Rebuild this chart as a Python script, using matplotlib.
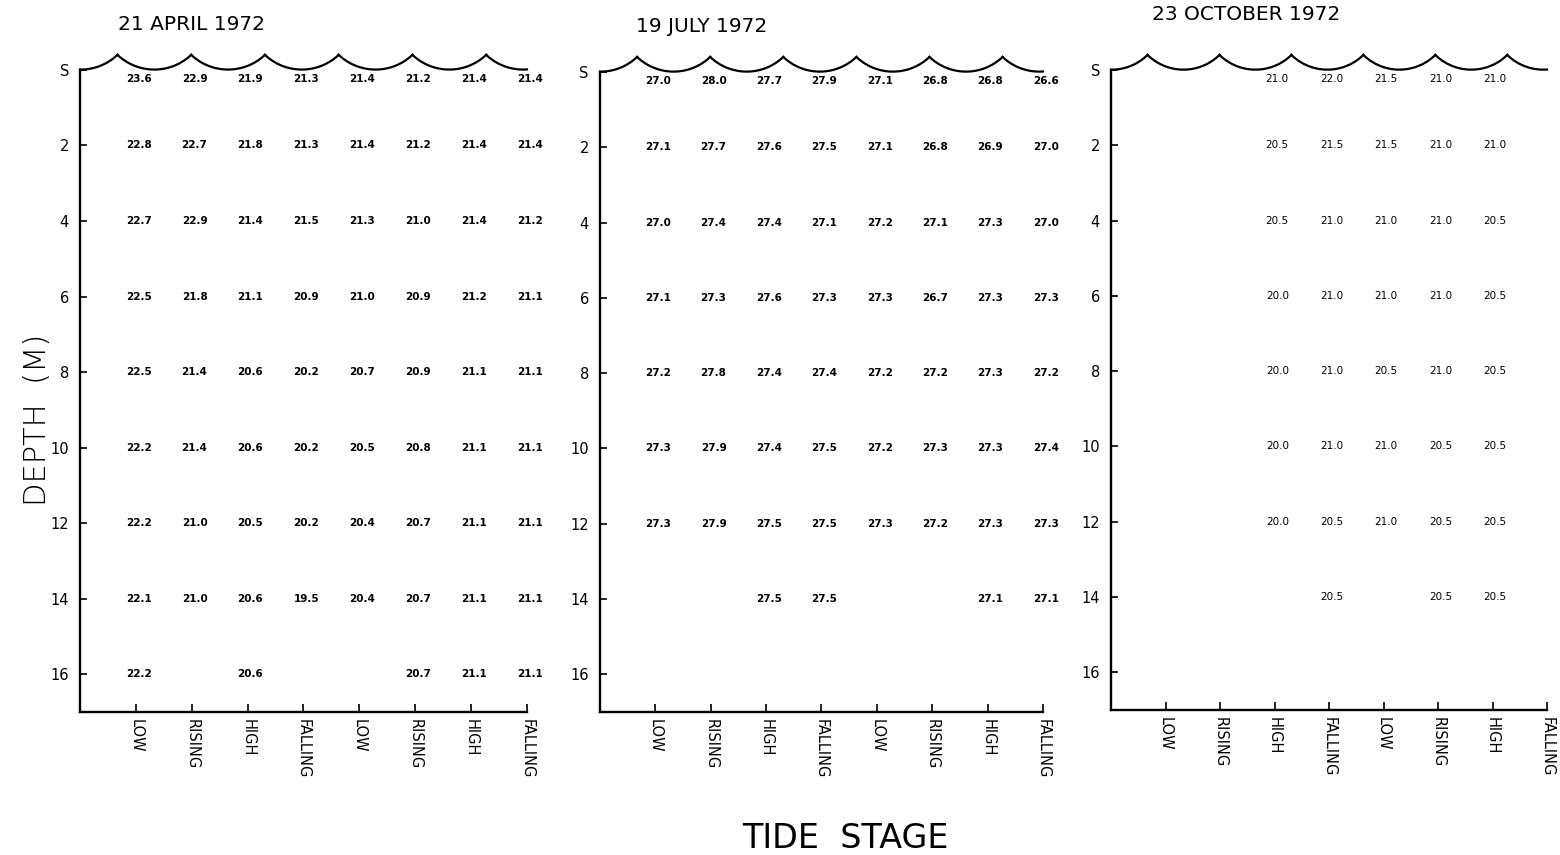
import numpy as np
import matplotlib.pyplot as plt

# tide stages along the x axis, depths (m) down the y axis
stages = ["LOW", "RISING", "HIGH", "FALLING", "LOW", "RISING", "HIGH", "FALLING"]
depth_ticks = [0, 2, 4, 6, 8, 10, 12, 14, 16]
depth_labels = ["S", "2", "4", "6", "8", "10", "12", "14", "16"]

# temperatures (deg C), one row per depth, one column per tide stage; None = no reading
april = [
    [23.6, 22.9, 21.9, 21.3, 21.4, 21.2, 21.4, 21.4],
    [22.8, 22.7, 21.8, 21.3, 21.4, 21.2, 21.4, 21.4],
    [22.7, 22.9, 21.4, 21.5, 21.3, 21.0, 21.4, 21.2],
    [22.5, 21.8, 21.1, 20.9, 21.0, 20.9, 21.2, 21.1],
    [22.5, 21.4, 20.6, 20.2, 20.7, 20.9, 21.1, 21.1],
    [22.2, 21.4, 20.6, 20.2, 20.5, 20.8, 21.1, 21.1],
    [22.2, 21.0, 20.5, 20.2, 20.4, 20.7, 21.1, 21.1],
    [22.1, 21.0, 20.6, 19.5, 20.4, 20.7, 21.1, 21.1],
    [22.2, None, 20.6, None, None, 20.7, 21.1, 21.1],
]
july = [
    [27.0, 28.0, 27.7, 27.9, 27.1, 26.8, 26.8, 26.6],
    [27.1, 27.7, 27.6, 27.5, 27.1, 26.8, 26.9, 27.0],
    [27.0, 27.4, 27.4, 27.1, 27.2, 27.1, 27.3, 27.0],
    [27.1, 27.3, 27.6, 27.3, 27.3, 26.7, 27.3, 27.3],
    [27.2, 27.8, 27.4, 27.4, 27.2, 27.2, 27.3, 27.2],
    [27.3, 27.9, 27.4, 27.5, 27.2, 27.3, 27.3, 27.4],
    [27.3, 27.9, 27.5, 27.5, 27.3, 27.2, 27.3, 27.3],
    [None, None, 27.5, 27.5, None, None, 27.1, 27.1],
    [None, None, None, None, None, None, None, None],
]
october = [
    [None, None, 21.0, 22.0, 21.5, 21.0, 21.0, None],
    [None, None, 20.5, 21.5, 21.5, 21.0, 21.0, None],
    [None, None, 20.5, 21.0, 21.0, 21.0, 20.5, None],
    [None, None, 20.0, 21.0, 21.0, 21.0, 20.5, None],
    [None, None, 20.0, 21.0, 20.5, 21.0, 20.5, None],
    [None, None, 20.0, 21.0, 21.0, 20.5, 20.5, None],
    [None, None, 20.0, 20.5, 21.0, 20.5, 20.5, None],
    [None, None, None, 20.5, None, 20.5, 20.5, None],
    [None, None, None, None, None, None, None, None],
]

panels = [
    ("21 APRIL 1972", april, "bold", [0.0513, 0.1673, 0.2865, 0.7509], (118, 25)),
    ("19 JULY 1972", july, "bold", [0.3846, 0.1673, 0.2840, 0.7485], (636, 27)),
    ("23 OCTOBER 1972", october, "normal", [0.7122, 0.1696, 0.2795, 0.7485], (1152, 15)),
]

W, H = 1560, 855
fig = plt.figure(figsize=(W / 100, H / 100), dpi=100)

# scalloped water surface: circular arcs between cusps (sizes in pixels)
half = 0.66        # half width of one scallop, in tide-stage units
R = 53.0           # arc radius, px
px_x, px_y = 55.5, 37.7
chord = np.sqrt(R**2 - (half * px_x) ** 2)


def surface(ax):
    for k in range(7):
        c = 0.01 + 2 * half * k
        x = np.linspace(max(c - half, 0), min(c + half, 8), 60)
        u = (x - c) * px_x
        d = -0.4 + (np.sqrt(R**2 - u**2) - chord) / px_y
        ax.plot(x, d, color="black", lw=1.6, clip_on=False)


for title, data, weight, rect, tpos in panels:
    ax = fig.add_axes(rect)
    ax.set_xlim(0, 8)
    ax.set_ylim(17, 0)
    for s in ["top", "right"]:
        ax.spines[s].set_visible(False)
    for s in ["left", "bottom"]:
        ax.spines[s].set_linewidth(1.7)

    surface(ax)

    ax.set_xticks(np.arange(1, 9))
    ax.set_xticklabels(stages, rotation=270, fontsize=10.5, va="top", ha="center")
    ax.set_yticks(depth_ticks)
    ax.set_yticklabels(depth_labels, fontsize=10.5)
    ax.tick_params(axis="x", direction="in", length=6, width=1.2, pad=5)
    ax.tick_params(axis="y", direction="in", length=5, width=1.2, pad=8)

    for i, row in enumerate(data):
        dep = depth_ticks[i] if i > 0 else 0.25
        for j, v in enumerate(row):
            if v is None:
                continue
            ax.text(j + 1.05, dep, f"{v:.1f}", fontsize=7.5, fontweight=weight,
                    ha="center", va="center")

    fig.text(tpos[0] / W, 1 - tpos[1] / H, title, fontsize=14.5, ha="left", va="center")

fig.text(38 / W, 1 - 420 / H, "DEPTH  (M)", rotation=90, fontsize=22,
         ha="center", va="center", fontweight="light")
fig.text(845 / W, 1 - 838 / H, "TIDE  STAGE", fontsize=24, ha="center", va="center")

fig.savefig("out.png", dpi=100, facecolor="white")
